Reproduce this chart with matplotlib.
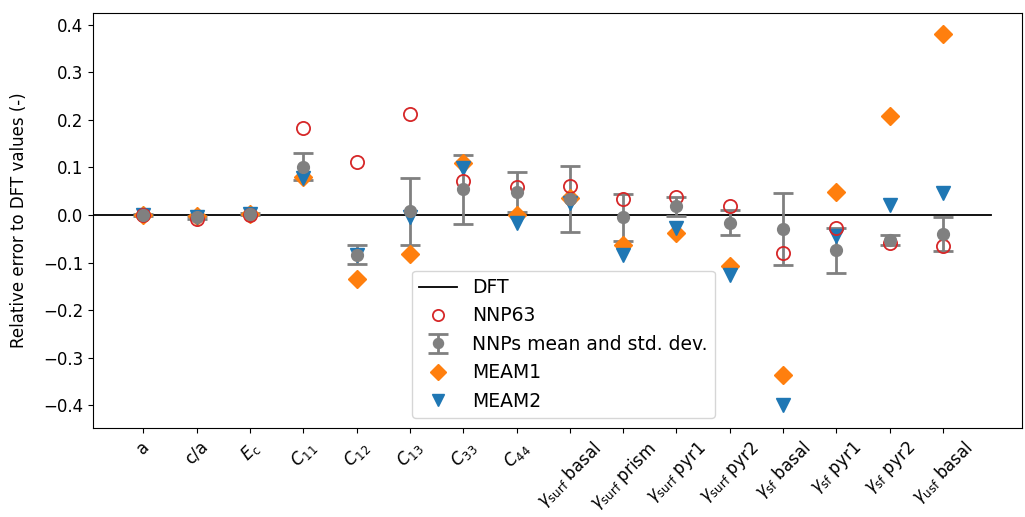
import numpy as np
import matplotlib
matplotlib.use("Agg")
import matplotlib.pyplot as plt

labels = [
    r"a", r"c/a", r"$E_\mathrm{c}$", r"$C_{11}$", r"$C_{12}$", r"$C_{13}$",
    r"$C_{33}$", r"$C_{44}$",
    r"$\gamma_\mathrm{surf}$ basal", r"$\gamma_\mathrm{surf}$ prism",
    r"$\gamma_\mathrm{surf}$ pyr1", r"$\gamma_\mathrm{surf}$ pyr2",
    r"$\gamma_\mathrm{sf}$ basal", r"$\gamma_\mathrm{sf}$ pyr1",
    r"$\gamma_\mathrm{sf}$ pyr2", r"$\gamma_\mathrm{usf}$ basal",
]

nnp63 = [0.0, -0.008, 0.001, 0.183, 0.112, 0.212, 0.072, 0.058,
         0.062, 0.034, 0.037, 0.020, -0.079, -0.028, -0.058, -0.065]
nnp_mean = [0.0, -0.005, 0.002, 0.102, -0.083, 0.008, 0.054, 0.049,
            0.034, -0.005, 0.018, -0.016, -0.029, -0.074, -0.052, -0.040]
nnp_std = [0.002, 0.003, 0.002, 0.028, 0.021, 0.070, 0.072, 0.042,
           0.069, 0.050, 0.019, 0.027, 0.076, 0.047, 0.011, 0.036]
meam1 = [0.0, -0.003, 0.002, 0.079, -0.135, -0.082, 0.110, 0.0,
         0.035, -0.063, -0.037, -0.107, -0.337, 0.048, 0.208, 0.380]
meam2 = [0.0, -0.005, 0.002, 0.077, -0.084, -0.005, 0.098, -0.017,
         0.025, -0.084, -0.027, -0.126, -0.400, -0.044, 0.021, 0.047]

x = np.arange(len(labels))

fig, ax = plt.subplots(figsize=(10.25, 5.17), dpi=100)
fig.subplots_adjust(left=0.091, right=0.997, top=0.975, bottom=0.172)

dft, = ax.plot([-1, 15.9], [0, 0], color="black", lw=1.3, label="DFT")
eb = ax.errorbar(x, nnp_mean, yerr=nnp_std, fmt="o", color="grey", ms=8.5,
                 elinewidth=2, capsize=7, capthick=2,
                 label="NNPs mean and std. dev.")
m1, = ax.plot(x, meam1, "D", color="tab:orange", ms=9, ls="none", label="MEAM1")
m2, = ax.plot(x, meam2, "v", color="tab:blue", ms=10, ls="none", label="MEAM2")
n63, = ax.plot(x, nnp63, "o", mfc="none", mec="tab:red", mew=1.3, ms=9.5,
               ls="none", label="NNP63")

ax.set_xlim(-0.94, 16.48)
ax.set_ylim(-0.448, 0.425)
ax.set_xticks(x)
ax.set_xticklabels(labels, rotation=45, fontsize=12)
ax.tick_params(axis="y", labelsize=12)
ax.set_ylabel("Relative error to DFT values (-)", fontsize=12, labelpad=11)

ax.legend([dft, n63, eb, m1, m2],
          ["DFT", "NNP63", "NNPs mean and std. dev.", "MEAM1", "MEAM2"],
          loc="lower left", bbox_to_anchor=(0.343, 0.024), borderaxespad=0,
          fontsize=13.5, markerscale=0.85)

plt.savefig("out.png", dpi=100)
